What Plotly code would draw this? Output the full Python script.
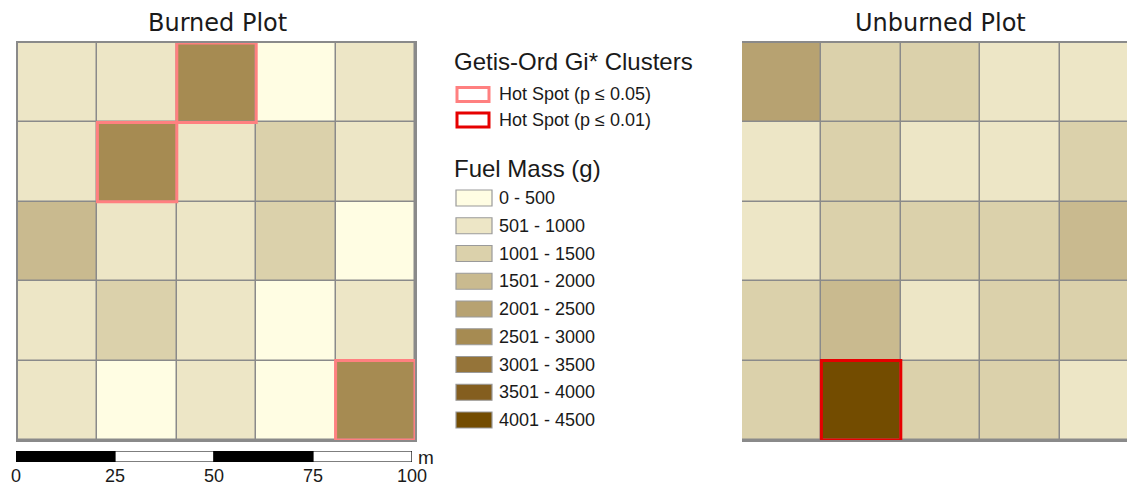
import plotly.graph_objects as go

W, H = 1127, 486

# ---- data ----
class_labels = ["0 - 500", "501 - 1000", "1001 - 1500", "1501 - 2000", "2001 - 2500",
                "2501 - 3000", "3001 - 3500", "3501 - 4000", "4001 - 4500"]
class_colors = ["#FFFDE3", "#EDE6C6", "#DBD1AB", "#C9BA8F", "#B7A271",
                "#A68B52", "#957439", "#845E1F", "#734C00"]

# fuel mass class index per cell, rows from top
burned_class = [[1, 1, 5, 0, 1],
                [1, 5, 1, 2, 1],
                [3, 1, 1, 2, 0],
                [1, 2, 1, 0, 1],
                [1, 0, 1, 0, 5]]
unburned_class = [[4, 2, 2, 1, 1],
                  [1, 2, 1, 1, 2],
                  [1, 2, 2, 2, 3],
                  [2, 3, 1, 2, 2],
                  [2, 8, 2, 2, 1]]

hot_labels = ["Hot Spot (p \u2264 0.05)", "Hot Spot (p \u2264 0.01)"]
hot_colors = ["#FF8080", "#E60000"]
burned_hot = [(0, 2, 0), (1, 1, 0), (4, 4, 0)]      # (row, col, hot class)
unburned_hot = [(4, 1, 1)]

scale_ticks = [0, 25, 50, 75, 100]

# ---- helpers ----
def px(x):
    return x / W

def py(y):
    return 1 - y / H

n = len(class_colors)
colorscale = []
for i, c in enumerate(class_colors):
    colorscale.append([i / n, c])
    colorscale.append([(i + 1) / n, c])

centers = [i + 0.5 for i in range(5)]
fig = go.Figure()
fig.add_trace(go.Heatmap(z=burned_class, x=centers, y=centers, colorscale=colorscale,
                         zmin=-0.5, zmax=n - 0.5, showscale=False, xgap=1.5, ygap=1.5,
                         xaxis="x", yaxis="y", hoverinfo="skip"))
fig.add_trace(go.Heatmap(z=unburned_class, x=centers, y=centers, colorscale=colorscale,
                         zmin=-0.5, zmax=n - 0.5, showscale=False, xgap=1.5, ygap=1.5,
                         xaxis="x2", yaxis="y2", hoverinfo="skip"))

cell = 79.4
grid_top, grid_bot = 43, 440
b_left = 18
u_left = 742
u_cols_visible = (W - u_left) / cell

axcommon = dict(showgrid=False, zeroline=False, showticklabels=False, ticks="",
                linecolor="#8a8a8a", linewidth=1.5)
fig.update_layout(
    width=W, height=H, margin=dict(l=0, r=0, t=0, b=0, autoexpand=False), autosize=False,
    paper_bgcolor="white", plot_bgcolor="#8a8a8a", showlegend=False,
    xaxis=dict(domain=[px(b_left), px(b_left + 5 * cell)], range=[0, 5],
               showline=True, mirror=True, **axcommon),
    yaxis=dict(domain=[py(grid_bot), py(grid_top)], range=[5, 0],
               showline=True, mirror=True, **axcommon),
    xaxis2=dict(domain=[px(u_left), 1], range=[0, u_cols_visible],
                showline=True, mirror=True, **axcommon),
    yaxis2=dict(domain=[py(grid_bot), py(grid_top)], range=[5, 0],
                showline=True, mirror=False, **axcommon),
    xaxis3=dict(domain=[px(16), px(412)], range=[0, 100], tickvals=scale_ticks,
                ticktext=[str(t) for t in scale_ticks], showgrid=False, zeroline=False,
                showline=False, ticks="", ticklabelstandoff=1,
                tickfont=dict(family="Liberation Sans, Arial", size=18, color="#1a1a1a"),
                anchor="y3"),
    yaxis3=dict(domain=[py(462), py(451)], range=[0, 1], showgrid=False, zeroline=False,
                showticklabels=False, showline=False, anchor="x3"),
)
# invisible trace to keep axis 3 alive
fig.add_trace(go.Scatter(x=[0, 100], y=[0, 0], mode="markers", marker=dict(opacity=0),
                         xaxis="x3", yaxis="y3", hoverinfo="skip"))

shapes = []
for hotlist, xr, yr in [(burned_hot, "x", "y"), (unburned_hot, "x2", "y2")]:
    for r, c, k in hotlist:
        shapes.append(dict(type="rect", xref=xr, yref=yr, x0=c, x1=c + 1, y0=r, y1=r + 1,
                           line=dict(color=hot_colors[k], width=3), fillcolor="rgba(0,0,0,0)"))

# scale bar
for i in range(len(scale_ticks) - 1):
    shapes.append(dict(type="rect", xref="x3", yref="y3", x0=scale_ticks[i], x1=scale_ticks[i + 1],
                       y0=0, y1=1, line=dict(color="black", width=1.2),
                       fillcolor="black" if i % 2 == 0 else "white"))

annotations = []
title_font = dict(family="DejaVu Sans", size=24, color="#1a1a1a")
annotations.append(dict(text="Burned Plot", x=px(217), y=py(23), xref="paper", yref="paper",
                        showarrow=False, xanchor="center", yanchor="middle", font=title_font))
annotations.append(dict(text="Unburned Plot", x=px(940), y=py(23), xref="paper", yref="paper",
                        showarrow=False, xanchor="center", yanchor="middle", font=title_font))
annotations.append(dict(text="m", x=px(416), y=py(457), xref="paper", yref="paper",
                        showarrow=False, xanchor="left", yanchor="middle",
                        font=dict(family="Liberation Sans, Arial", size=19, color="#1a1a1a")))

head_font = dict(family="Liberation Sans, Arial", size=24, color="#1a1a1a")
item_font = dict(family="Liberation Sans, Arial", size=18, color="#1a1a1a")
lx0, lx1, tx = 456, 490, 497

annotations.append(dict(text="Getis-Ord Gi* Clusters", x=px(452), y=py(62), xref="paper", yref="paper",
                        showarrow=False, xanchor="left", yanchor="middle", font=head_font))
for i, lab in enumerate(hot_labels):
    cy = 94.5 + i * 25.5
    shapes.append(dict(type="rect", xref="paper", yref="paper", x0=px(lx0 + 1), x1=px(lx1 - 1),
                       y0=py(cy - 7), y1=py(cy + 7), line=dict(color=hot_colors[i], width=3),
                       fillcolor="white"))
    annotations.append(dict(text=lab, x=px(tx), y=py(cy), xref="paper", yref="paper",
                            showarrow=False, xanchor="left", yanchor="middle", font=item_font))

annotations.append(dict(text="Fuel Mass (g)", x=px(452), y=py(168), xref="paper", yref="paper",
                        showarrow=False, xanchor="left", yanchor="middle", font=head_font))
for i, lab in enumerate(class_labels):
    cy = 198 + i * 27.75
    shapes.append(dict(type="rect", xref="paper", yref="paper", x0=px(lx0), x1=px(lx0 + 36),
                       y0=py(cy - 8), y1=py(cy + 8), line=dict(color="#9a9a9a", width=1.2),
                       fillcolor=class_colors[i]))
    annotations.append(dict(text=lab, x=px(tx), y=py(cy), xref="paper", yref="paper",
                            showarrow=False, xanchor="left", yanchor="middle", font=item_font))

fig.update_layout(shapes=shapes, annotations=annotations)
fig.write_html("out.html", config={"responsive": False, "displayModeBar": False},
               post_script="document.body.style.margin='0';document.body.style.overflow='hidden';")
